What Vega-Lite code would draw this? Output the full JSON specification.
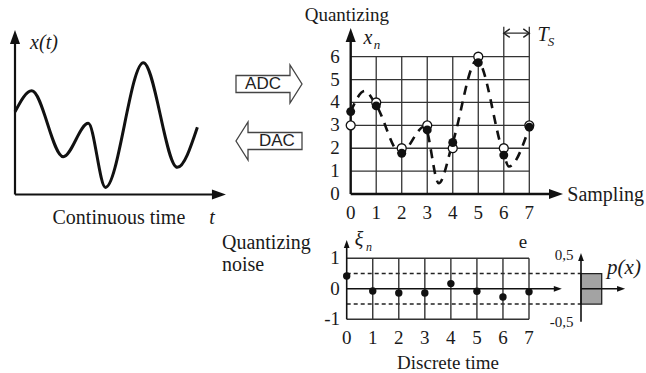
{
  "$schema": "https://vega.github.io/schema/vega-lite/v6.json",
  "width": 646,
  "height": 373,
  "autosize": "none",
  "padding": 0,
  "background": "white",
  "config": {
    "view": {"stroke": null},
    "axis": {"disable": true},
    "legend": {"disable": true},
    "text": {"font": "Liberation Serif", "color": "#1a1a1a"}
  },
  "resolve": {"scale": {"x": "independent", "y": "independent"}},
  "layer": [
    {
      "encoding": {
        "x": {"field": "x", "type": "quantitative", "scale": {"domain": [0, 10], "range": [15, 222], "nice": false, "zero": false}},
        "y": {"field": "y", "type": "quantitative", "scale": {"domain": [0, 10], "range": [194.5, 30], "nice": false, "zero": false}}
      },
      "layer": [
        {
          "data": {"values": [
            {"x": 0, "y": 5.03}, {"x": 0.81, "y": 6.31}, {"x": 2.33, "y": 2.3}, {"x": 3.54, "y": 4.33},
            {"x": 4.37, "y": 0.43}, {"x": 6.2, "y": 8.01}, {"x": 7.84, "y": 1.65}, {"x": 8.81, "y": 4.09}
          ]},
          "mark": {"type": "line", "interpolate": "monotone", "stroke": "#111", "strokeWidth": 3}
        },
        {
          "data": {"values": [
            {"x": 0, "y": 0, "x2": 0, "y2": 9.57},
            {"x": 0, "y": 0, "x2": 9.86, "y2": 0}
          ]},
          "mark": {"type": "rule", "stroke": "#111", "strokeWidth": 2.2},
          "encoding": {"x2": {"field": "x2"}, "y2": {"field": "y2"}}
        },
        {
          "data": {"values": [{"x": 0, "y": 10, "dir": "up"}, {"x": 10.19, "y": 0, "dir": "right"}]},
          "mark": {"type": "point", "filled": true, "size": 784, "color": "#111", "opacity": 1},
          "encoding": {"shape": {"field": "dir", "type": "nominal", "scale": {"domain": ["up", "right", "chevL", "chevR", "blockR", "blockL"], "range": ["M0,0L0.36,1L-0.36,1Z", "M0,0L-1,-0.36L-1,0.36Z", "M1,-0.7L0,0L1,0.7", "M-1,-0.7L0,0L-1,0.7", "M-1,-0.258L0.636,-0.258L0.636,-0.576L1,0L0.636,0.576L0.636,0.258L-1,0.258Z", "M1,-0.258L-0.636,-0.258L-0.636,-0.576L-1,0L-0.636,0.576L-0.636,0.258L1,0.258Z"]}}}
        },
        {
          "data": {"values": [{"x": 5.02, "y": -1.43, "txt": "Continuous time"}]},
          "mark": {"type": "text", "fontSize": 20},
          "encoding": {"text": {"field": "txt"}}
        },
        {
          "data": {"values": [{"x": 1.4, "y": 9.21, "txt": "x(t)"}, {"x": 9.52, "y": -1.43, "txt": "t"}]},
          "mark": {"type": "text", "fontSize": 20, "fontStyle": "italic"},
          "encoding": {"text": {"field": "txt"}}
        }
      ]
    },
    {
      "encoding": {
        "x": {"field": "x", "type": "quantitative", "scale": {"domain": [0, 1], "range": [236, 302], "nice": false, "zero": false}},
        "y": {"field": "y", "type": "quantitative", "scale": {"domain": [0, 1], "range": [84, 141], "nice": false, "zero": false}}
      },
      "layer": [
        {
          "data": {"values": [{"x": 0.5, "y": 0, "dir": "blockR"}, {"x": 0.5, "y": 1, "dir": "blockL"}]},
          "mark": {"type": "point", "filled": true, "size": 4356, "fill": "white", "stroke": "#444", "strokeWidth": 1.3, "opacity": 1},
          "encoding": {"shape": {"field": "dir", "type": "nominal", "scale": {"domain": ["up", "right", "chevL", "chevR", "blockR", "blockL"], "range": ["M0,0L0.36,1L-0.36,1Z", "M0,0L-1,-0.36L-1,0.36Z", "M1,-0.7L0,0L1,0.7", "M-1,-0.7L0,0L-1,0.7", "M-1,-0.258L0.636,-0.258L0.636,-0.576L1,0L0.636,0.576L0.636,0.258L-1,0.258Z", "M1,-0.258L-0.636,-0.258L-0.636,-0.576L-1,0L-0.636,0.576L-0.636,0.258L1,0.258Z"]}}}
        },
        {
          "data": {"values": [{"x": 0.41, "y": 0, "txt": "ADC"}, {"x": 0.62, "y": 1, "txt": "DAC"}]},
          "mark": {"type": "text", "fontSize": 17, "font": "Liberation Sans", "color": "#222"},
          "encoding": {"text": {"field": "txt"}}
        }
      ]
    },
    {
      "encoding": {
        "x": {"field": "x", "type": "quantitative", "scale": {"domain": [0, 7], "range": [350.7, 529.3], "nice": false, "zero": false}},
        "y": {"field": "y", "type": "quantitative", "scale": {"domain": [0, 6], "range": [194, 56.7], "nice": false, "zero": false}}
      },
      "layer": [
        {
          "data": {"values": [
            {"x": 0, "x2": 7, "y": 1, "y2": 1}, {"x": 0, "x2": 7, "y": 2, "y2": 2}, {"x": 0, "x2": 7, "y": 3, "y2": 3},
            {"x": 0, "x2": 7, "y": 4, "y2": 4}, {"x": 0, "x2": 7, "y": 5, "y2": 5}, {"x": 0, "x2": 7, "y": 6, "y2": 6},
            {"x": 1, "x2": 1, "y": 0, "y2": 6}, {"x": 2, "x2": 2, "y": 0, "y2": 6}, {"x": 3, "x2": 3, "y": 0, "y2": 6},
            {"x": 4, "x2": 4, "y": 0, "y2": 6}, {"x": 5, "x2": 5, "y": 0, "y2": 6},
            {"x": 6, "x2": 6, "y": 0, "y2": 7.31}, {"x": 7, "x2": 7, "y": 0, "y2": 7.31},
            {"x": 6, "x2": 7, "y": 7.03, "y2": 7.03}
          ]},
          "mark": {"type": "rule", "stroke": "#333", "strokeWidth": 1.3},
          "encoding": {"x2": {"field": "x2"}, "y2": {"field": "y2"}}
        },
        {
          "data": {"values": [
            {"x": 0, "x2": 8.05, "y": 0, "y2": 0},
            {"x": 0, "x2": 0, "y": 0, "y2": 6.95}
          ]},
          "mark": {"type": "rule", "stroke": "#111", "strokeWidth": 2.4},
          "encoding": {"x2": {"field": "x2"}, "y2": {"field": "y2"}}
        },
        {
          "data": {"values": [{"x": 0, "y": 7.25, "dir": "up"}, {"x": 8.32, "y": 0, "dir": "right"}]},
          "mark": {"type": "point", "filled": true, "size": 784, "color": "#111", "opacity": 1},
          "encoding": {"shape": {"field": "dir", "type": "nominal", "scale": {"domain": ["up", "right", "chevL", "chevR", "blockR", "blockL"], "range": ["M0,0L0.36,1L-0.36,1Z", "M0,0L-1,-0.36L-1,0.36Z", "M1,-0.7L0,0L1,0.7", "M-1,-0.7L0,0L-1,0.7", "M-1,-0.258L0.636,-0.258L0.636,-0.576L1,0L0.636,0.576L0.636,0.258L-1,0.258Z", "M1,-0.258L-0.636,-0.258L-0.636,-0.576L-1,0L-0.636,0.576L-0.636,0.258L1,0.258Z"]}}}
        },
        {
          "data": {"values": [{"x": 6, "y": 7.03, "dir": "chevL"}, {"x": 7, "y": 7.03, "dir": "chevR"}]},
          "mark": {"type": "point", "filled": false, "size": 144, "stroke": "#222", "strokeWidth": 1.4, "opacity": 1},
          "encoding": {"shape": {"field": "dir", "type": "nominal", "scale": {"domain": ["up", "right", "chevL", "chevR", "blockR", "blockL"], "range": ["M0,0L0.36,1L-0.36,1Z", "M0,0L-1,-0.36L-1,0.36Z", "M1,-0.7L0,0L1,0.7", "M-1,-0.7L0,0L-1,0.7", "M-1,-0.258L0.636,-0.258L0.636,-0.576L1,0L0.636,0.576L0.636,0.258L-1,0.258Z", "M1,-0.258L-0.636,-0.258L-0.636,-0.576L-1,0L-0.636,0.576L-0.636,0.258L1,0.258Z"]}}}
        },
        {
          "data": {"values": [
            {"x": 0, "y": 3.6}, {"x": 0.55, "y": 4.5}, {"x": 1, "y": 3.88}, {"x": 1.95, "y": 1.78},
            {"x": 2.9, "y": 2.95}, {"x": 3.45, "y": 0.47}, {"x": 4, "y": 2.25}, {"x": 4.95, "y": 5.85},
            {"x": 6, "y": 1.72}, {"x": 6.2, "y": 1.2}, {"x": 7, "y": 2.92}
          ]},
          "mark": {"type": "line", "interpolate": "monotone", "stroke": "#111", "strokeWidth": 2.6, "strokeDash": [9, 7]}
        },
        {
          "data": {"values": [
            {"x": 0, "y": 3}, {"x": 1, "y": 4}, {"x": 2, "y": 2}, {"x": 3, "y": 3},
            {"x": 4, "y": 2}, {"x": 5, "y": 6}, {"x": 6, "y": 2}, {"x": 7, "y": 3}
          ]},
          "mark": {"type": "point", "shape": "circle", "filled": true, "size": 80, "fill": "white", "stroke": "#111", "strokeWidth": 1.3, "opacity": 1}
        },
        {
          "data": {"values": [
            {"x": 0, "y": 3.6}, {"x": 1, "y": 3.85}, {"x": 2, "y": 1.78}, {"x": 3, "y": 2.8},
            {"x": 4, "y": 2.25}, {"x": 5, "y": 5.74}, {"x": 6, "y": 1.7}, {"x": 7, "y": 2.92}
          ]},
          "mark": {"type": "point", "shape": "circle", "filled": true, "size": 80, "color": "#111", "opacity": 1}
        },
        {
          "data": {"values": [
            {"x": -0.15, "y": 7.82, "txt": "Quantizing"},
            {"x": 0, "y": -0.83, "txt": "0"}, {"x": 1, "y": -0.83, "txt": "1"}, {"x": 2, "y": -0.83, "txt": "2"}, {"x": 3, "y": -0.83, "txt": "3"},
            {"x": 4, "y": -0.83, "txt": "4"}, {"x": 5, "y": -0.83, "txt": "5"}, {"x": 6, "y": -0.83, "txt": "6"}, {"x": 7, "y": -0.83, "txt": "7"},
            {"x": -0.62, "y": 0, "txt": "0"}, {"x": -0.62, "y": 1, "txt": "1"}, {"x": -0.62, "y": 2, "txt": "2"}, {"x": -0.62, "y": 3, "txt": "3"},
            {"x": -0.62, "y": 4, "txt": "4"}, {"x": -0.62, "y": 5, "txt": "5"}, {"x": -0.62, "y": 6, "txt": "6"}
          ]},
          "mark": {"type": "text", "fontSize": 19},
          "encoding": {"text": {"field": "txt"}}
        },
        {
          "data": {"values": [{"x": 8.49, "y": -0.04, "txt": "Sampling"}]},
          "mark": {"type": "text", "fontSize": 20, "align": "left"},
          "encoding": {"text": {"field": "txt"}}
        },
        {
          "data": {"values": [{"x": 0.68, "y": 6.82, "txt": "x"}, {"x": 7.54, "y": 6.95, "txt": "T"}]},
          "mark": {"type": "text", "fontSize": 20, "fontStyle": "italic"},
          "encoding": {"text": {"field": "txt"}}
        },
        {
          "data": {"values": [{"x": 1.03, "y": 6.51, "txt": "n"}, {"x": 7.85, "y": 6.64, "txt": "S"}]},
          "mark": {"type": "text", "fontSize": 13, "fontStyle": "italic"},
          "encoding": {"text": {"field": "txt"}}
        }
      ]
    },
    {
      "encoding": {
        "x": {"field": "x", "type": "quantitative", "scale": {"domain": [0, 7], "range": [346.7, 529], "nice": false, "zero": false}},
        "y": {"field": "y", "type": "quantitative", "scale": {"domain": [-1, 1], "range": [319.3, 258.3], "nice": false, "zero": false}}
      },
      "layer": [
        {
          "data": {"values": [
            {"x": 0, "x2": 9.0, "y": 0.5, "y2": 0.5}, {"x": 0, "x2": 9.0, "y": -0.5, "y2": -0.5}
          ]},
          "mark": {"type": "rule", "stroke": "#222", "strokeWidth": 1.4, "strokeDash": [4, 3]},
          "encoding": {"x2": {"field": "x2"}, "y2": {"field": "y2"}}
        },
        {
          "data": {"values": [
            {"x": 0, "x2": 7, "y": 1, "y2": 1}, {"x": 0, "x2": 7, "y": -1, "y2": -1},
            {"x": 1, "x2": 1, "y": -1, "y2": 1}, {"x": 2, "x2": 2, "y": -1, "y2": 1}, {"x": 3, "x2": 3, "y": -1, "y2": 1},
            {"x": 4, "x2": 4, "y": -1, "y2": 1}, {"x": 5, "x2": 5, "y": -1, "y2": 1}, {"x": 6, "x2": 6, "y": -1, "y2": 1},
            {"x": 7, "x2": 7, "y": -1, "y2": 1}
          ]},
          "mark": {"type": "rule", "stroke": "#333", "strokeWidth": 1.4},
          "encoding": {"x2": {"field": "x2"}, "y2": {"field": "y2"}}
        },
        {
          "data": {"values": [
            {"x": 0, "x2": 8.1, "y": 0, "y2": 0},
            {"x": 0, "x2": 0, "y": -1, "y2": 1.47}
          ]},
          "mark": {"type": "rule", "stroke": "#111", "strokeWidth": 1.6},
          "encoding": {"x2": {"field": "x2"}, "y2": {"field": "y2"}}
        },
        {
          "data": {"values": [{"x": 0, "y": 1.6, "dir": "up"}, {"x": 8.26, "y": 0, "dir": "right"}]},
          "mark": {"type": "point", "filled": true, "size": 256, "color": "#111", "opacity": 1},
          "encoding": {"shape": {"field": "dir", "type": "nominal", "scale": {"domain": ["up", "right", "chevL", "chevR", "blockR", "blockL"], "range": ["M0,0L0.36,1L-0.36,1Z", "M0,0L-1,-0.36L-1,0.36Z", "M1,-0.7L0,0L1,0.7", "M-1,-0.7L0,0L-1,0.7", "M-1,-0.258L0.636,-0.258L0.636,-0.576L1,0L0.636,0.576L0.636,0.258L-1,0.258Z", "M1,-0.258L-0.636,-0.258L-0.636,-0.576L-1,0L-0.636,0.576L-0.636,0.258L1,0.258Z"]}}}
        },
        {
          "data": {"values": [
            {"x": 0, "y": 0.42}, {"x": 1, "y": -0.07}, {"x": 2, "y": -0.14}, {"x": 3, "y": -0.14},
            {"x": 4, "y": 0.17}, {"x": 5, "y": -0.08}, {"x": 6, "y": -0.27}, {"x": 7, "y": -0.1}
          ]},
          "mark": {"type": "point", "shape": "circle", "filled": true, "size": 55, "color": "#111", "opacity": 1}
        },
        {
          "data": {"values": [
            {"x": 0, "y": -1.61, "txt": "0"}, {"x": 1, "y": -1.61, "txt": "1"}, {"x": 2, "y": -1.61, "txt": "2"}, {"x": 3, "y": -1.61, "txt": "3"},
            {"x": 4, "y": -1.61, "txt": "4"}, {"x": 5, "y": -1.61, "txt": "5"}, {"x": 6, "y": -1.61, "txt": "6"}, {"x": 7, "y": -1.61, "txt": "7"},
            {"x": -0.45, "y": 1, "txt": "1"}, {"x": -0.45, "y": 0, "txt": "0"}, {"x": -0.56, "y": -1, "txt": "-1"},
            {"x": 3.89, "y": -2.43, "txt": "Discrete time"},
            {"x": 6.77, "y": 1.53, "txt": "e"}
          ]},
          "mark": {"type": "text", "fontSize": 19},
          "encoding": {"text": {"field": "txt"}}
        },
        {
          "data": {"values": [
            {"x": -4.79, "y": 1.5, "txt": "Quantizing"}, {"x": -4.79, "y": 0.78, "txt": "noise"}
          ]},
          "mark": {"type": "text", "fontSize": 20, "align": "left"},
          "encoding": {"text": {"field": "txt"}}
        },
        {
          "data": {"values": [{"x": 0.47, "y": 1.6, "txt": "ξ"}]},
          "mark": {"type": "text", "fontSize": 20, "fontStyle": "italic"},
          "encoding": {"text": {"field": "txt"}}
        },
        {
          "data": {"values": [{"x": 0.86, "y": 1.38, "txt": "n"}]},
          "mark": {"type": "text", "fontSize": 12, "fontStyle": "italic"},
          "encoding": {"text": {"field": "txt"}}
        }
      ]
    },
    {
      "encoding": {
        "x": {"field": "x", "type": "quantitative", "scale": {"domain": [0, 2], "range": [581, 622.4], "nice": false, "zero": false}},
        "y": {"field": "y", "type": "quantitative", "scale": {"domain": [-1, 1], "range": [319.3, 258.3], "nice": false, "zero": false}}
      },
      "layer": [
        {
          "data": {"values": [{"x": 0, "x2": 1, "y": -0.5, "y2": 0.5}]},
          "mark": {"type": "rect", "fill": "#a3a3a3", "stroke": "#222", "strokeWidth": 1.3},
          "encoding": {"x2": {"field": "x2"}, "y2": {"field": "y2"}}
        },
        {
          "data": {"values": [
            {"x": 0, "x2": 0, "y": -1.08, "y2": 1.04},
            {"x": 0, "x2": 1.93, "y": 0, "y2": 0}
          ]},
          "mark": {"type": "rule", "stroke": "#111", "strokeWidth": 1.6},
          "encoding": {"x2": {"field": "x2"}, "y2": {"field": "y2"}}
        },
        {
          "data": {"values": [{"x": 0, "y": 1.17, "dir": "up"}, {"x": 2.13, "y": 0, "dir": "right"}]},
          "mark": {"type": "point", "filled": true, "size": 256, "color": "#111", "opacity": 1},
          "encoding": {"shape": {"field": "dir", "type": "nominal", "scale": {"domain": ["up", "right", "chevL", "chevR", "blockR", "blockL"], "range": ["M0,0L0.36,1L-0.36,1Z", "M0,0L-1,-0.36L-1,0.36Z", "M1,-0.7L0,0L1,0.7", "M-1,-0.7L0,0L-1,0.7", "M-1,-0.258L0.636,-0.258L0.636,-0.576L1,0L0.636,0.576L0.636,0.258L-1,0.258Z", "M1,-0.258L-0.636,-0.258L-0.636,-0.576L-1,0L-0.636,0.576L-0.636,0.258L1,0.258Z"]}}}
        },
        {
          "data": {"values": [{"x": -0.82, "y": 1.11, "txt": "0,5"}, {"x": -0.93, "y": -1.08, "txt": "-0,5"}]},
          "mark": {"type": "text", "fontSize": 15},
          "encoding": {"text": {"field": "txt"}}
        },
        {
          "data": {"values": [{"x": 1.26, "y": 0.68, "txt": "p(x)"}]},
          "mark": {"type": "text", "fontSize": 21, "fontStyle": "italic", "align": "left"},
          "encoding": {"text": {"field": "txt"}}
        }
      ]
    }
  ]
}
